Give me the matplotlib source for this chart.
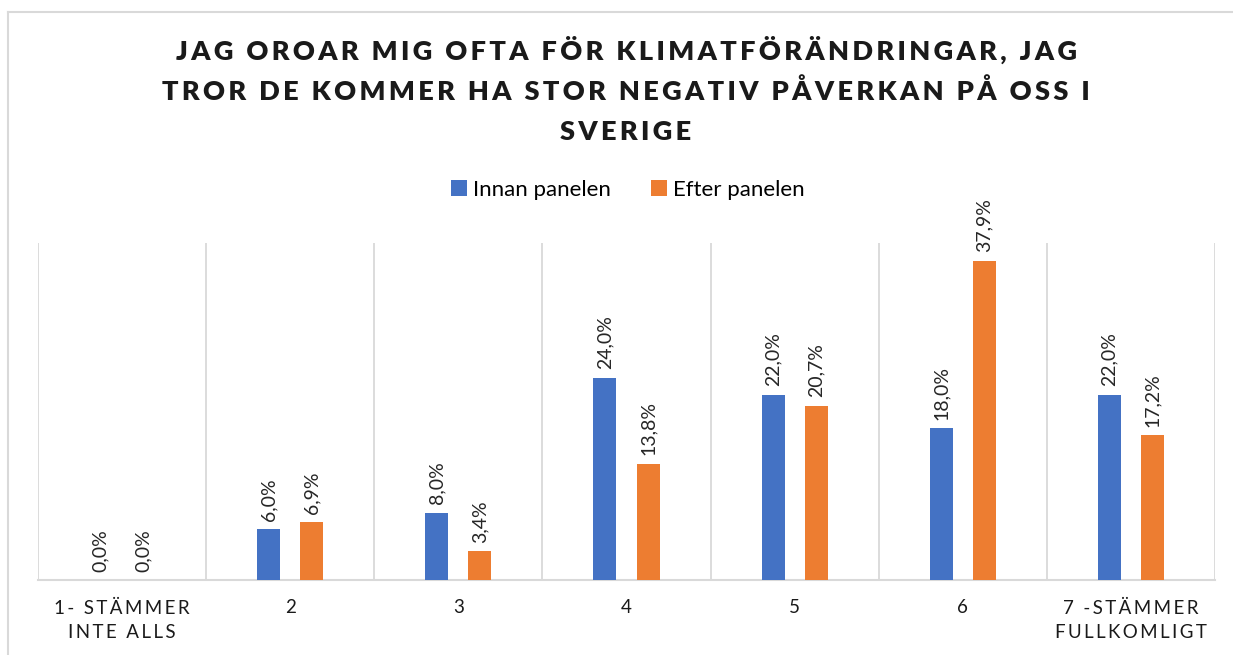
import numpy as np
import matplotlib
matplotlib.use('Agg')
import matplotlib.pyplot as plt
from matplotlib.lines import Line2D

categories = ['1- STÄMMER\nINTE ALLS', '2', '3', '4', '5', '6', '7 -STÄMMER\nFULLKOMLIGT']
innan = [0.0, 6.0, 8.0, 24.0, 22.0, 18.0, 22.0]
efter = [0.0, 6.9, 3.4, 13.8, 20.7, 37.9, 17.2]
series_names = ['Innan panelen', 'Efter panelen']
title_lines = ['JAG OROAR MIG OFTA FÖR KLIMATFÖRÄNDRINGAR, JAG',
               'TROR DE KOMMER HA STOR NEGATIV PÅVERKAN PÅ OSS I',
               'SVERIGE']

BLUE = '#4472C4'
ORANGE = '#ED7D31'
GRID = '#D9D9D9'

plt.rcParams['font.family'] = ['Lato', 'DejaVu Sans']


def spaced(s, sep='\u200a'):
    # fake letter spacing like the office chart
    return '\n'.join(sep.join(list(line)) for line in s.split('\n'))


def main():
    fig = plt.figure(figsize=(12.33, 6.55), dpi=100)
    ax = fig.add_axes([38/1233, 75/655, (1215-38)/1233, (580-243)/655])

    x = np.arange(len(categories))
    w = 0.137
    off = 0.128
    b1 = ax.bar(x - off, innan, w, color=BLUE, label=series_names[0], zorder=3)
    b2 = ax.bar(x + off, efter, w, color=ORANGE, label=series_names[1], zorder=3)

    for bars, vals in ((b1, innan), (b2, efter)):
        for r, v in zip(bars, vals):
            ax.annotate(('%.1f%%' % v).replace('.', ','),
                        (r.get_x() + r.get_width()/2, v),
                        xytext=(0, 6), textcoords='offset points',
                        rotation=90, ha='center', va='bottom',
                        fontsize=14, color='#262626')

    ax.set_xlim(-0.5, len(categories) - 0.5)
    ax.set_ylim(0, 40)
    ax.set_yticks([])
    for i in range(len(categories) + 1):
        ax.axvline(i - 0.5, color=GRID, lw=1.3, zorder=1)
    for s in ['top', 'left', 'right']:
        ax.spines[s].set_visible(False)
    ax.spines['bottom'].set_color(GRID)
    ax.spines['bottom'].set_linewidth(1.5)
    ax.set_xticks(x)
    ax.set_xticklabels([spaced(c, '\u2009') for c in categories], fontsize=13.5,
                       color='#1a1a1a', linespacing=1.5)
    ax.tick_params(axis='x', length=0, pad=14)

    for i, line in enumerate(title_lines):
        fig.text(626/1233, 1 - (50 + i*41)/655, spaced(line, '\u2009'),
                 ha='center', va='center', fontsize=19.5, fontweight='heavy',
                 color='#1a1a1a')

    fig.legend(handles=[b1, b2], loc='center', bbox_to_anchor=(628/1233, 1 - 190/655),
               ncol=2, frameon=False, fontsize=16, handlelength=0.7, handleheight=0.7,
               handletextpad=0.3, columnspacing=1.8)

    # chart border
    fig.add_artist(Line2D([8/1233, 8/1233], [0, 1 - 12/655], color=GRID, lw=1.5,
                          transform=fig.transFigure))
    fig.add_artist(Line2D([8/1233, 1], [1 - 12/655, 1 - 12/655], color=GRID, lw=1.5,
                          transform=fig.transFigure))

    fig.savefig('out.png', dpi=100)


main()
